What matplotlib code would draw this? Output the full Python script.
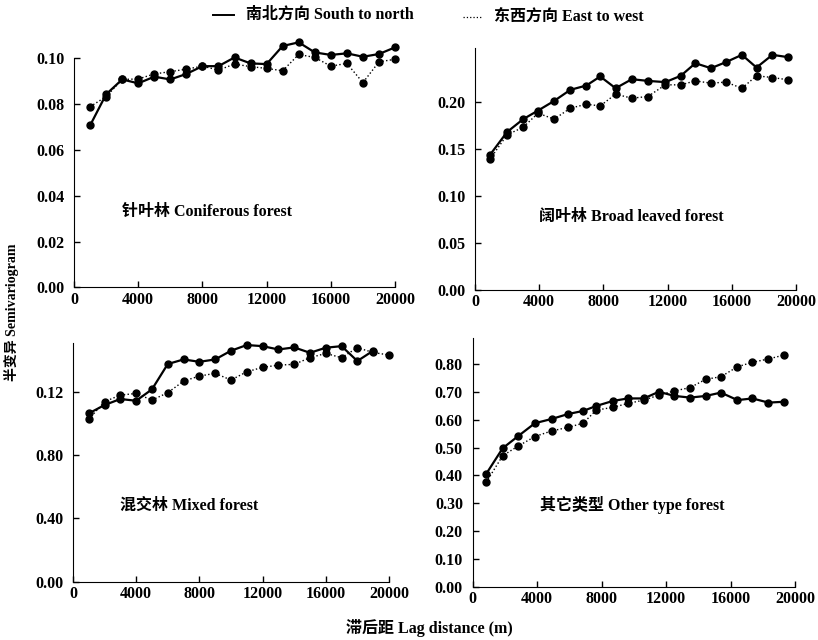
import matplotlib
matplotlib.use("Agg")
import matplotlib.pyplot as plt
from matplotlib.lines import Line2D

plt.rcParams["font.family"] = ["Liberation Serif", "Noto Sans CJK SC"]
plt.rcParams["font.weight"] = "bold"

# lag distances (m)
lag_a = [1000, 2000, 3000, 4000, 5000, 6000, 7000, 8000, 9000, 10000,
         11000, 12000, 13000, 14000, 15000, 16000, 17000, 18000, 19000, 20000]
lag_b = [930, 2000, 3000, 3930, 4930, 5940, 6940, 7800, 8760, 9770,
         10770, 11860, 12820, 13730, 14700, 15630, 16630, 17540, 18530, 19520]
lag_d = [830, 1860, 2830, 3860, 4890, 5920, 6850, 7670, 8700, 9630,
         10620, 11550, 12520, 13490, 14470, 15400, 16430, 17360, 18350, 19320]

# coniferous forest
conif_sn = [0.0707, 0.0843, 0.0908, 0.0891, 0.0920, 0.0908, 0.0932, 0.0966, 0.0966, 0.1004,
            0.0978, 0.0975, 0.1054, 0.1070, 0.1026, 0.1015, 0.1022, 0.1007, 0.1019, 0.1048]
conif_ew = [0.0789, 0.0833, 0.0908, 0.0910, 0.0932, 0.0942, 0.0953, 0.0966, 0.0949, 0.0975,
            0.0964, 0.0956, 0.0946, 0.1017, 0.1004, 0.0966, 0.0978, 0.0894, 0.0985, 0.0996]

# broad leaved forest
broad_sn = [0.1436, 0.1680, 0.1816, 0.1908, 0.2010, 0.2128, 0.2174, 0.2270, 0.2145, 0.2241,
            0.2223, 0.2210, 0.2277, 0.2411, 0.2358, 0.2422, 0.2500, 0.2365, 0.2500, 0.2475]
broad_ew = [0.1390, 0.1650, 0.1730, 0.1880, 0.1816, 0.1933, 0.1975, 0.1957, 0.2082, 0.2039,
            0.2057, 0.2181, 0.2181, 0.2223, 0.2199, 0.2210, 0.2145, 0.2277, 0.2259, 0.2234]

# mixed forest (south-north has no value at 20000)
mixed_sn = [1.063, 1.116, 1.154, 1.143, 1.215, 1.375, 1.404, 1.389, 1.404, 1.459,
            1.495, 1.488, 1.467, 1.480, 1.446, 1.478, 1.488, 1.394, 1.459]
mixed_ew = [1.027, 1.137, 1.179, 1.189, 1.147, 1.194, 1.267, 1.299, 1.316, 1.274,
            1.326, 1.354, 1.368, 1.373, 1.415, 1.442, 1.415, 1.478, 1.448, 1.432]

# other type forest
other_sn = [0.405, 0.498, 0.542, 0.588, 0.603, 0.621, 0.632, 0.650, 0.668, 0.677,
            0.677, 0.701, 0.686, 0.680, 0.686, 0.698, 0.671, 0.677, 0.662, 0.665]
other_ew = [0.375, 0.471, 0.506, 0.540, 0.560, 0.573, 0.588, 0.635, 0.645, 0.659,
            0.671, 0.689, 0.704, 0.716, 0.746, 0.755, 0.791, 0.807, 0.819, 0.833]

x_ticks = [0, 4000, 8000, 12000, 16000, 20000]

panels = [
    # rect, x_sn, y_sn, x_ew, y_ew, ylim, yticks, yticklabels, title, title pos
    ([0.0905, 0.551, 0.3924, 0.3578], lag_a, conif_sn, lag_a, conif_ew, 0.100,
     [0, 0.02, 0.04, 0.06, 0.08, 0.10], ["0.00", "0.02", "0.04", "0.06", "0.08", "0.10"],
     "针叶林 Coniferous forest", (0.15, 0.33)),
    ([0.5807, 0.5469, 0.3924, 0.3777], lag_b, broad_sn, lag_b, broad_ew, 0.257,
     [0, 0.05, 0.10, 0.15, 0.20], ["0.00", "0.05", "0.10", "0.15", "0.20"],
     "阔叶林 Broad leaved forest", (0.20, 0.30)),
    ([0.0892, 0.0911, 0.3863, 0.373], lag_a[:19], mixed_sn, lag_a, mixed_ew, 1.508,
     [0, 0.4, 0.8, 1.2], ["0.00", "0.40", "0.80", "0.12"],
     "混交林 Mixed forest", (0.15, 0.32)),
    ([0.5779, 0.0833, 0.394, 0.388], lag_d, other_sn, lag_d, other_ew, 0.893,
     [0, 0.1, 0.2, 0.3, 0.4, 0.5, 0.6, 0.7, 0.8],
     ["0.00", "0.10", "0.20", "0.30", "0.40", "0.50", "0.60", "0.70", "0.80"],
     "其它类型 Other type forest", (0.21, 0.33)),
]

fig = plt.figure(figsize=(8.18, 6.4), dpi=100)

for rect, xs, ys, xe, ye, ytop, yt, ytl, title, tpos in panels:
    ax = fig.add_axes(rect)
    ax.plot(xe, ye, color="black", linestyle=":", linewidth=1.0,
            marker="o", markersize=5, clip_on=False)
    ax.plot(xs, ys, color="black", linestyle="-", linewidth=1.6,
            marker="o", markersize=5, clip_on=False)
    ax.set_xlim(0, 20000)
    ax.set_ylim(0, ytop)
    ax.set_xticks(x_ticks)
    ax.set_xticklabels([str(t) for t in x_ticks])
    ax.set_yticks(yt)
    ax.set_yticklabels(ytl)
    ax.spines["top"].set_visible(False)
    ax.spines["right"].set_visible(False)
    ax.tick_params(direction="in", length=4, width=1, labelsize=11.5)
    ax.tick_params(axis="y", pad=7)
    ax.tick_params(axis="x", pad=3)
    for lab in ax.get_xticklabels() + ax.get_yticklabels():
        lab.set_fontweight("bold")
    ax.text(tpos[0], tpos[1], title, transform=ax.transAxes, fontsize=11.5,
            fontweight="bold", va="center", ha="left")

# legend at the top
fig.add_artist(Line2D([213 / 818, 234 / 818], [1 - 15 / 640, 1 - 15 / 640],
                      color="black", linewidth=1.4))
fig.text(246 / 818, 1 - 15 / 640, "南北方向 South to north", fontsize=11.5,
         fontweight="bold", va="center", ha="left")
fig.add_artist(Line2D([463 / 818, 481 / 818], [1 - 17 / 640, 1 - 17 / 640],
                      color="black", linewidth=0.9, linestyle=":"))
fig.text(494 / 818, 1 - 17 / 640, "东西方向 East to west", fontsize=11.5,
         fontweight="bold", va="center", ha="left")

fig.text(12 / 818, 1 - 312 / 640, "半变异 Semivariogram", rotation=90,
         fontsize=10, fontweight="bold", va="center", ha="center")
fig.text(429 / 818, 1 - 628 / 640, "滞后距 Lag distance (m)",
         fontsize=11.5, fontweight="bold", va="center", ha="center")

fig.savefig("out.png", dpi=100)
